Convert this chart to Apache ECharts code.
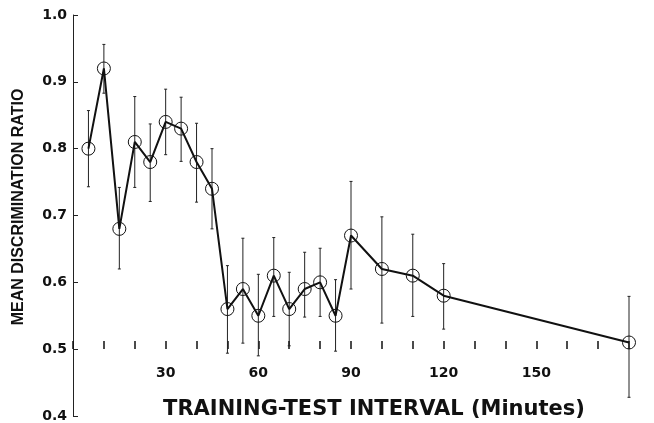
<!DOCTYPE html>
<html>
<head>
<meta charset="utf-8">
<script src="https://cdn.jsdelivr.net/npm/echarts@6/dist/echarts.min.js"></script>
<style>
  html, body { margin: 0; padding: 0; background: #fff; }
  #chart { width: 654px; height: 423px; }
</style>
</head>
<body>
<div id="chart"></div>
<script>
var minutes = [5, 10, 15, 20, 25, 30, 35, 40, 45, 50, 55, 60, 65, 70, 75, 80, 85, 90, 100, 110, 120, 180];
var ratio = [0.80, 0.92, 0.68, 0.81, 0.78, 0.84, 0.83, 0.78, 0.74, 0.56, 0.59, 0.55, 0.61, 0.56, 0.59, 0.60, 0.55, 0.67, 0.62, 0.61, 0.58, 0.51];
var upper = [0.857, 0.956, 0.742, 0.878, 0.837, 0.889, 0.877, 0.838, 0.800, 0.625, 0.666, 0.612, 0.667, 0.615, 0.645, 0.651, 0.604, 0.751, 0.698, 0.672, 0.628, 0.579];
var lower = [0.743, 0.883, 0.620, 0.742, 0.721, 0.791, 0.781, 0.720, 0.680, 0.494, 0.509, 0.490, 0.549, 0.505, 0.548, 0.549, 0.497, 0.590, 0.539, 0.549, 0.530, 0.428];
var xLabels = [30, 60, 90, 120, 150];
var xTitle = 'TRAINING-TEST INTERVAL (Minutes)';
var yTitle = 'MEAN DISCRIMINATION RATIO';

var font = 'Liberation Sans, Arial, sans-serif';
var wideFont = 'DejaVu Sans, sans-serif';

var points = minutes.map(function (m, i) { return [m, ratio[i]]; });
var bars = minutes.map(function (m, i) { return [m, lower[i], upper[i]]; });

var myChart = echarts.init(document.getElementById('chart'));
var option = {
    animation: false,
    grid: { left: 73, right: 25, top: 15, bottom: 6 },
    graphic: [
        {
            type: 'text',
            x: 374, y: 410,
            style: { text: xTitle, fill: '#111', font: 'bold 21px ' + wideFont, textAlign: 'center', textVerticalAlign: 'middle' }
        },
        {
            type: 'text',
            x: 19, y: 207,
            rotation: Math.PI / 2,
            style: { text: yTitle, fill: '#111', font: 'bold 16px ' + font, textAlign: 'center', textVerticalAlign: 'middle' }
        }
    ],
    xAxis: {
        type: 'value',
        min: 0,
        max: 180,
        interval: 10,
        offset: -67,
        axisLine: { show: false },
        axisTick: { inside: true, length: 8, lineStyle: { color: '#111', width: 1.5 } },
        splitLine: { show: false },
        axisLabel: {
            margin: 17,
            color: '#111',
            fontFamily: wideFont,
            fontWeight: 'bold',
            fontSize: 14,
            formatter: function (v) { return xLabels.indexOf(v) >= 0 ? String(v) : ''; }
        }
    },
    yAxis: {
        type: 'value',
        min: 0.4,
        max: 1.0,
        interval: 0.1,
        axisLine: { show: true, lineStyle: { color: '#222', width: 1 } },
        axisTick: { inside: true, length: 5, lineStyle: { color: '#222' } },
        splitLine: { show: false },
        axisLabel: {
            margin: 6,
            color: '#111',
            fontFamily: wideFont,
            fontWeight: 'bold',
            fontSize: 14,
            formatter: function (v) { return v.toFixed(1); }
        }
    },
    series: [
        {
            type: 'custom',
            data: bars,
            renderItem: function (params, api) {
                var x = api.value(0);
                var lo = api.coord([x, api.value(1)]);
                var hi = api.coord([x, api.value(2)]);
                var style = { stroke: '#222', lineWidth: 1 };
                return {
                    type: 'group',
                    children: [
                        { type: 'line', shape: { x1: lo[0], y1: lo[1], x2: hi[0], y2: hi[1] }, style: style },
                        { type: 'line', shape: { x1: hi[0] - 1.5, y1: hi[1], x2: hi[0] + 1.5, y2: hi[1] }, style: style },
                        { type: 'line', shape: { x1: lo[0] - 1.5, y1: lo[1], x2: lo[0] + 1.5, y2: lo[1] }, style: style }
                    ]
                };
            },
            z: 1
        },
        {
            type: 'line',
            data: points,
            symbol: 'circle',
            symbolSize: 13,
            lineStyle: { color: '#111', width: 2 },
            itemStyle: { color: 'rgba(0,0,0,0)', borderColor: '#111', borderWidth: 1 },
            z: 2
        }
    ]
};
myChart.setOption(option);
</script>
</body>
</html>
